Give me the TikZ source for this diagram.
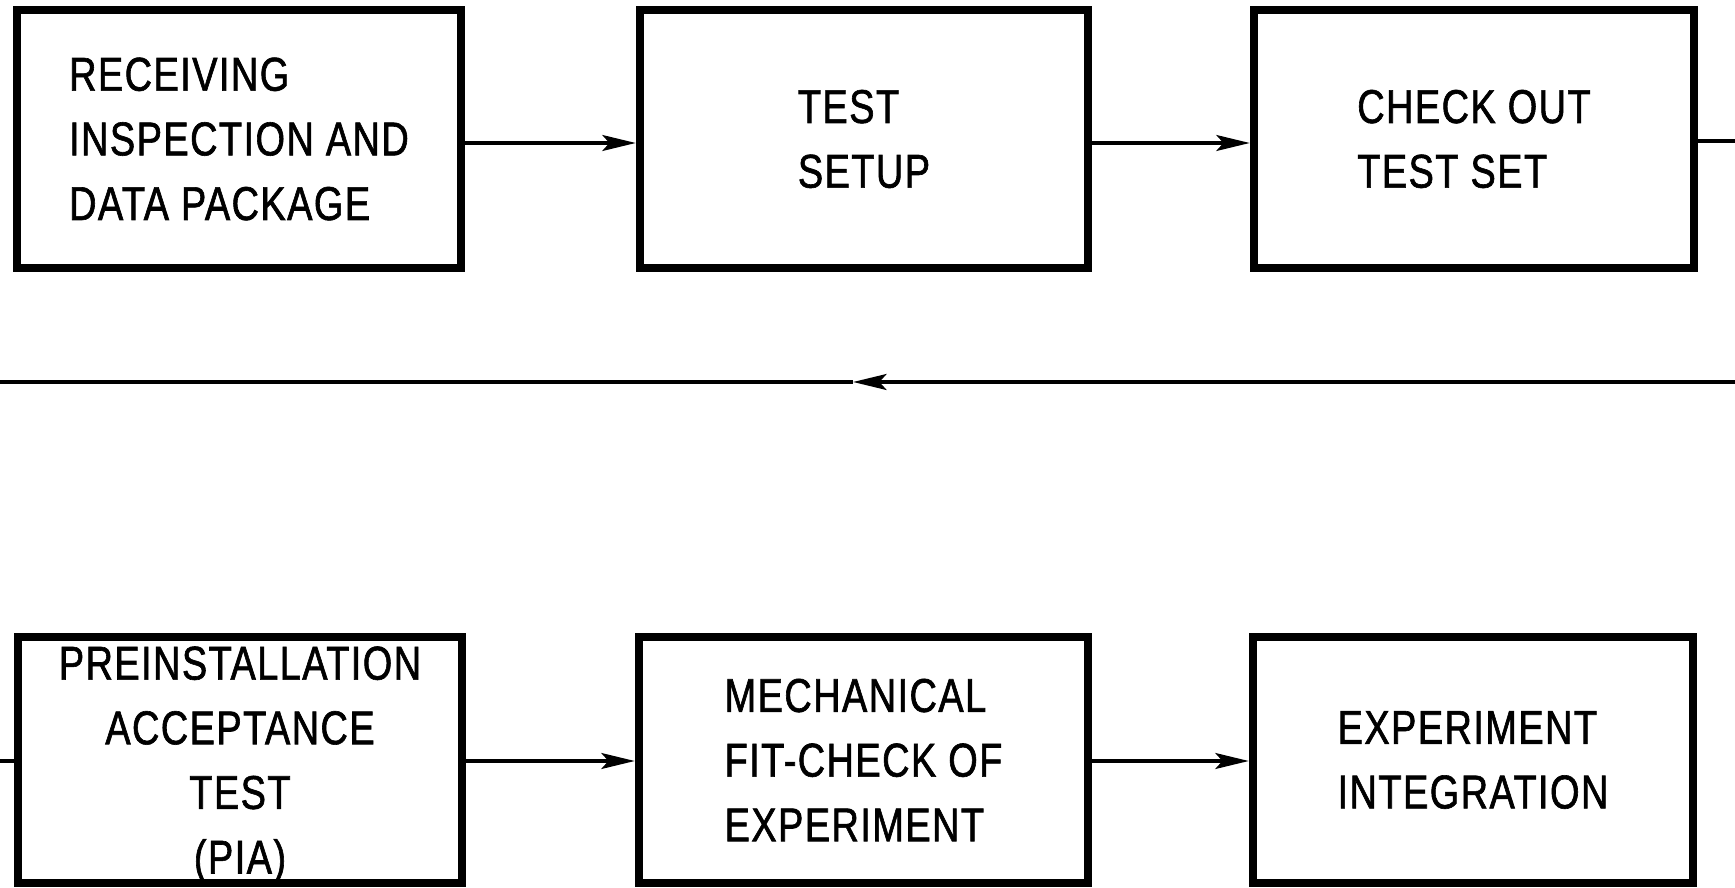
\documentclass[tikz,border=0pt]{standalone}
\usepackage{fontspec}
\setmainfont{Liberation Sans}[FakeStretch=0.80,FakeBold=1.3,LetterSpace=3]
\usetikzlibrary{arrows.meta}
\begin{document}
\begin{tikzpicture}[x=0.02cm,y=-0.02cm,
  box/.style={draw,line width=4.8pt,inner sep=0pt,font=\fontsize{27}{36.8}\selectfont},
  rowA/.style={box,minimum height=5.16cm},
  rowB/.style={box,minimum height=4.92cm},
  conn/.style={line width=2.3pt},
  arr/.style={conn,-{Stealth[length=19pt,width=9pt,inset=4pt]}}]
\useasboundingbox (0,0) rectangle (1735,888);
\fill[white] (0,0) rectangle (1735,888);
% top row
\node[rowA,minimum width=8.88cm,align=left] (b1) at (239,139) {RECEIVING\\INSPECTION AND\\DATA PACKAGE};
\node[rowA,minimum width=8.96cm,align=left] (b2) at (864,139) {TEST\\SETUP};
\node[rowA,minimum width=8.80cm,align=left] (b3) at (1474,139) {CHECK OUT\\TEST SET};
% bottom row
\node[rowB,minimum width=8.88cm,align=center,text depth=0pt] (b4) at (240,760) {PREINSTALLATION\\ACCEPTANCE\\TEST\\(PIA)};
\node[rowB,minimum width=8.98cm,align=left] (b5) at (863.5,760) {MECHANICAL\\FIT-CHECK OF\\EXPERIMENT};
\node[rowB,minimum width=8.80cm,align=left] (b6) at (1473,760) {EXPERIMENT\\INTEGRATION};
% coordinates
\coordinate (r1) at (0,143);
\coordinate (e3) at (1735,141);
\coordinate (rR) at (1735,382);
\coordinate (rM) at (853,382);
\coordinate (rL) at (0,382);
\coordinate (s4) at (0,761);
% connectors
\draw[arr] (b1.east |- r1) -- (b2.west |- r1);
\draw[arr] (b2.east |- r1) -- (b3.west |- r1);
\draw[conn] (b3.east |- e3) -- (e3);
\draw[arr] (rR) -- (rM);
\draw[conn] (rM) -- (rL);
\draw[conn] (s4) -- (b4.west |- s4);
\draw[arr] (b4.east |- s4) -- (b5.west |- s4);
\draw[arr] (b5.east |- s4) -- (b6.west |- s4);
\end{tikzpicture}
\end{document}
